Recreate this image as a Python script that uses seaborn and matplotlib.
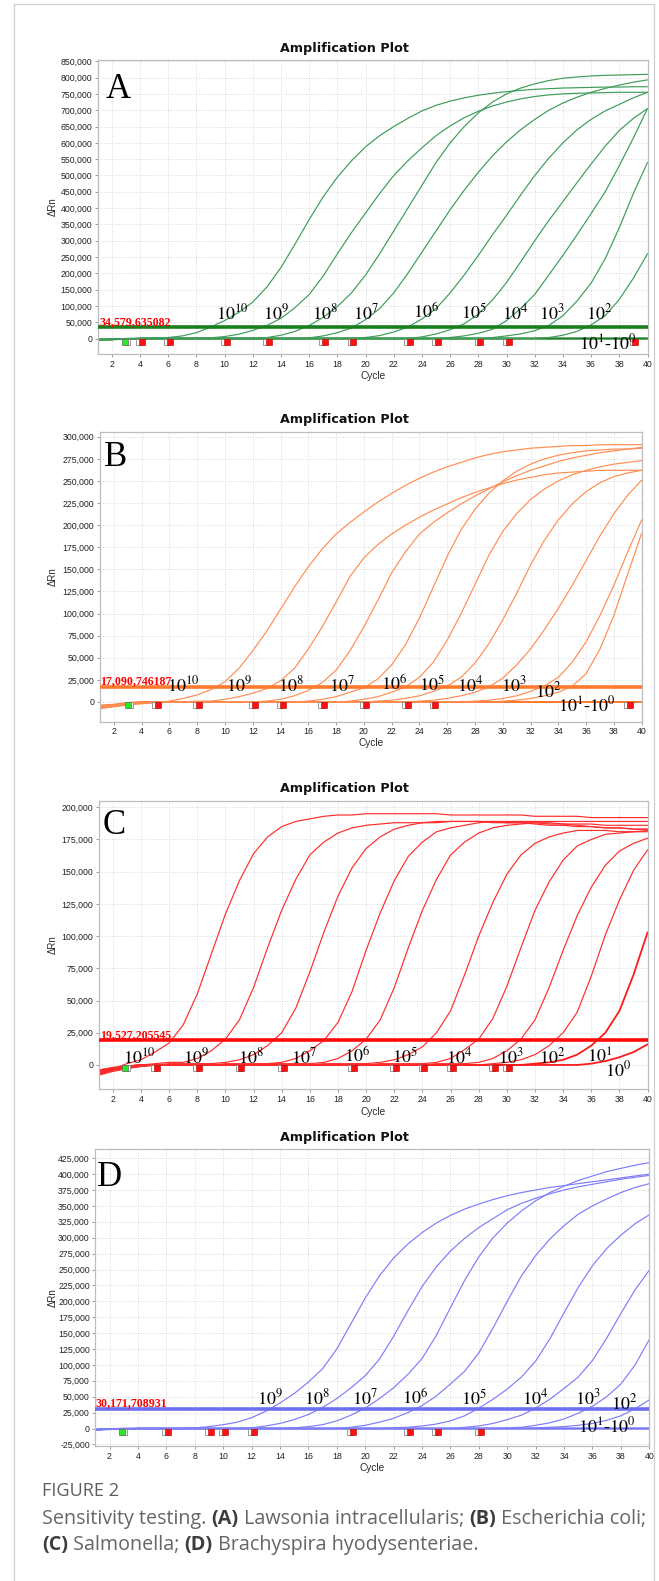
import numpy as np
import pandas as pd
import matplotlib
matplotlib.use("Agg")
import matplotlib.pyplot as plt
import seaborn as sns
from matplotlib.ticker import FuncFormatter, MultipleLocator
from matplotlib.lines import Line2D

# ---------------------------------------------------------------- data
CYCLES = list(range(1, 41))

# delta Rn values in thousands, one value per cycle 1..40
A_CURVES = {
    "1e10": [-3,-3,-1,0,1,3,8,18,35,55,80,112,158,218,290,365,435,495,545,588,622,650,675,698,715,728,738,746,752,757,761,764,766,768,769,770,771,771,772,772],
    "1e9":  [-3,-3,-1,0,0,0,0,1,2,6,13,25,40,62,95,135,192,260,325,385,445,500,545,585,622,652,677,697,713,725,735,742,747,750,752,753,754,755,755,755],
    "1e8":  [-3,-3,-1,0,0,0,0,0,0,0,0,0,3,10,22,40,65,98,140,195,260,330,400,470,540,600,650,692,725,750,768,781,791,798,802,805,807,808,809,810],
    "1e7":  [-3,-3,-1,0,0,0,0,0,0,0,0,0,0,0,0,2,8,18,32,58,92,140,200,265,330,395,455,510,560,603,640,672,700,722,740,755,767,777,786,793],
    "1e6":  [-3,-3,-1,0,0,0,0,0,0,0,0,0,0,0,0,0,0,0,0,3,9,20,35,60,92,140,195,255,318,378,440,500,553,600,640,672,698,718,738,755],
    "1e5":  [-3,-3,-1,0,0,0,0,0,0,0,0,0,0,0,0,0,0,0,0,0,0,0,0,5,14,27,45,75,118,172,235,300,362,420,478,535,590,638,675,705],
    "1e4":  [-3,-3,-1,0,0,0,0,0,0,0,0,0,0,0,0,0,0,0,0,0,0,0,0,0,0,3,8,16,28,55,92,135,195,255,318,383,450,530,615,705],
    "1e3":  [-3,-3,-1,0,0,0,0,0,0,0,0,0,0,0,0,0,0,0,0,0,0,0,0,0,0,0,0,0,3,8,14,24,40,70,115,170,245,340,445,540],
    "1e2":  [-3,-3,-1,0,0,0,0,0,0,0,0,0,0,0,0,0,0,0,0,0,0,0,0,0,0,0,0,0,0,0,0,0,3,10,22,42,70,120,185,260],
    "1e1":  [-4,-3,-1,0,0,0,0,0,0,0,0,0,0,0,0,0,0,0,0,0,0,0,0,0,0,0,0,0,0,0,0,0,0,0,0,0,0,0,0,0],
    "1e0":  [-3,-2,-1,-1,0,0,0,0,0,0,0,0,0,0,0,0,0,0,0,0,0,0,0,0,0,0,0,0,0,0,0,0,0,0,0,0,0,0,0,0],
}
B_CURVES = {
    "1e10": [-7,-5,-3,-2,-1,1,4,8,14,23,38,58,80,105,130,153,173,190,203,215,226,236,245,253,260,266,271,276,280,283,285,287,288,289,290,290,291,291,291,291],
    "1e9":  [-6,-4,-2,-1,0,0,0,1,1,3,6,10,15,24,38,60,85,113,142,163,178,190,200,209,217,224,231,237,242,247,251,254,257,259,260,261,262,262,262,262],
    "1e8":  [-5,-4,-2,-1,0,0,0,0,0,0,0,0,1,3,7,13,22,36,58,85,115,146,170,190,203,214,224,233,241,249,256,262,267,272,276,279,282,284,286,288],
    "1e7":  [-6,-4,-2,-1,0,0,0,0,0,0,0,0,0,0,0,1,3,6,11,16,26,42,65,95,130,165,195,218,236,250,261,269,275,279,282,284,285,286,286,287],
    "1e6":  [-5,-3,-2,-1,0,0,0,0,0,0,0,0,0,0,0,0,0,0,1,3,6,11,17,28,45,70,100,133,166,193,213,229,241,250,257,262,266,269,271,273],
    "1e5":  [-4,-3,-2,-1,0,0,0,0,0,0,0,0,0,0,0,0,0,0,0,0,1,2,4,7,12,18,28,44,66,93,123,155,183,206,224,238,248,255,259,262],
    "1e4":  [-6,-4,-2,-1,0,0,0,0,0,0,0,0,0,0,0,0,0,0,0,0,0,0,0,1,2,4,7,11,17,27,42,60,82,106,132,160,188,213,234,251],
    "1e3":  [-5,-4,-2,-1,0,0,0,0,0,0,0,0,0,0,0,0,0,0,0,0,0,0,0,0,0,0,0,1,2,4,7,12,18,28,45,68,98,132,170,206],
    "1e2":  [-6,-4,-2,-1,0,0,0,0,0,0,0,0,0,0,0,0,0,0,0,0,0,0,0,0,0,0,0,0,0,1,2,4,7,11,18,32,60,98,145,191],
    "1e1":  [-7,-5,-3,-1,0,0,0,0,0,0,0,0,0,0,0,0,0,0,0,0,0,0,0,0,0,0,0,0,0,0,0,0,0,0,0,0,0,0,0,0],
    "1e0":  [-4,-3,-1,0,0,0,0,0,0,0,0,0,0,0,0,0,0,0,0,0,0,0,0,0,0,0,0,0,0,0,0,0,0,0,0,0,0,0,0,0],
}
C_CURVES = {
    "1e10": [-6,-3,1,4,10,17,31,55,86,117,143,164,177,185,189,191,193,194,194,195,195,195,195,195,195,194,194,194,194,194,194,193,193,193,193,192,192,192,192,192],
    "1e9":  [-5,-3,-1,0,1,2,2,5,11,20,35,60,91,120,144,163,173,180,184,186,187,188,188,188,188,189,189,189,188,188,188,188,187,187,187,187,186,186,186,186],
    "1e8":  [-7,-4,-2,-1,0,1,1,1,1,2,4,8,15,25,44,72,103,131,153,168,177,183,186,188,189,189,189,189,189,188,188,187,186,186,185,185,184,184,183,183],
    "1e7":  [-4,-2,-1,0,0,0,0,0,0,1,1,1,1,2,5,11,19,33,57,89,118,143,162,173,181,184,186,188,189,189,189,189,189,189,189,189,189,189,189,189],
    "1e6":  [-5,-3,-1,0,0,0,0,0,0,0,0,0,1,1,1,1,2,5,11,20,35,60,91,120,144,163,173,180,184,186,187,188,188,187,186,185,184,184,183,183],
    "1e5":  [-8,-5,-3,-1,0,0,0,0,0,0,0,0,0,0,0,0,1,1,1,1,2,4,8,14,25,42,70,100,126,148,163,172,177,180,182,182,182,181,181,181],
    "1e4":  [-6,-4,-2,-1,0,0,0,0,0,0,0,0,0,0,0,0,0,0,0,0,1,1,1,1,2,5,12,20,36,61,91,120,142,159,170,175,179,180,181,182],
    "1e3":  [-5,-3,-1,0,0,0,0,0,0,0,0,0,0,0,0,0,0,0,0,0,0,0,0,0,1,1,1,2,5,11,20,35,60,89,116,138,155,166,172,176],
    "1e2":  [-4,-2,-1,0,0,0,0,0,0,0,0,0,0,0,0,0,0,0,0,0,0,0,0,0,0,0,0,0,1,2,4,8,15,25,41,69,101,128,151,167],
    "1e1":  [-7,-4,-2,-1,0,0,0,0,0,0,0,0,0,0,0,0,0,0,0,0,0,0,0,0,0,0,0,0,0,0,0,1,2,4,8,15,25,42,70,103],
    "1e0":  [-5,-3,-1,0,0,0,0,0,0,0,0,0,0,0,0,0,0,0,0,0,0,0,0,0,0,0,0,0,0,0,0,0,0,0,0,1,3,6,10,16],
}
D_CURVES = {
    "1e9":  [-2,-1,-1,0,0,0,0,1,3,6,10,17,27,40,55,73,94,125,165,205,240,268,290,308,323,335,345,353,360,366,371,375,379,382,385,388,391,394,397,400],
    "1e8":  [-2,-1,-1,0,0,0,0,0,0,0,0,1,4,8,14,22,33,47,64,83,109,145,185,223,254,279,299,316,330,344,354,362,369,375,380,384,388,392,395,398],
    "1e7":  [-2,-1,-1,0,0,0,0,0,0,0,0,0,0,0,1,3,6,12,21,32,47,64,85,110,146,190,233,270,300,323,342,358,371,381,390,397,404,409,414,418],
    "1e6":  [-2,-1,-1,0,0,0,0,0,0,0,0,0,0,0,0,0,0,0,2,5,10,16,25,36,51,70,90,119,158,200,240,272,298,319,337,350,361,371,379,385],
    "1e5":  [-2,-1,-1,0,0,0,0,0,0,0,0,0,0,0,0,0,0,0,0,0,0,1,2,4,7,12,20,32,46,62,81,106,141,182,222,256,283,304,322,336],
    "1e4":  [-2,-1,-1,0,0,0,0,0,0,0,0,0,0,0,0,0,0,0,0,0,0,0,0,0,0,0,2,4,8,14,21,32,46,63,81,107,142,181,218,249],
    "1e3":  [-2,-1,-1,0,0,0,0,0,0,0,0,0,0,0,0,0,0,0,0,0,0,0,0,0,0,0,0,0,0,1,2,5,9,15,24,35,50,70,100,140],
    "1e2":  [-2,-1,-1,0,0,0,0,0,0,0,0,0,0,0,0,0,0,0,0,0,0,0,0,0,0,0,0,0,0,0,0,1,2,3,5,8,13,20,31,45],
    "1e1":  [-2,-1,-1,0,0,0,0,0,0,0,0,0,0,0,0,0,0,0,0,0,0,0,0,0,0,0,0,0,0,0,0,0,0,0,0,0,0,0,0,0],
    "1e0":  [-1,-1,0,0,0,0,0,0,0,0,0,0,0,0,0,0,0,0,0,0,0,0,0,0,0,0,0,0,0,0,0,0,0,0,0,0,0,0,0,0],
}
FLAT_KEYS = ["1e1", "1e0"]

THRESHOLDS = [34579.635082, 17090.746187, 19527.205545, 30171.708931]
THRESHOLD_TEXTS = ["34,579,635082", "17,090,746187", "19,527,205545", "30,171,708931"]

# marker cycles (baseline start / end markers)
A_MARKS = [4, 6, 10, 13, 17, 19, 23, 25, 28, 30, 39]
B_MARKS = [5, 8, 12, 14, 17, 20, 23, 25, 39]
C_MARKS = [5, 8, 11, 14, 19, 22, 24, 26, 29, 30]
D_MARKS = [6, 9, 10, 12, 19, 23, 25, 28]
GREEN_MARK = [2.9, 3.0, 2.85, 2.9]

A_LABELS = [r"$10^{10}$", r"$10^{9}$", r"$10^{8}$", r"$10^{7}$", r"$10^{6}$", r"$10^{5}$", r"$10^{4}$", r"$10^{3}$", r"$10^{2}$", r"$10^{1}$-$10^{0}$"]
B_LABELS = A_LABELS
C_LABELS = [r"$10^{10}$", r"$10^{9}$", r"$10^{8}$", r"$10^{7}$", r"$10^{6}$", r"$10^{5}$", r"$10^{4}$", r"$10^{3}$", r"$10^{2}$", r"$10^{1}$", r"$10^{0}$"]
D_LABELS = [r"$10^{9}$", r"$10^{8}$", r"$10^{7}$", r"$10^{6}$", r"$10^{5}$", r"$10^{4}$", r"$10^{3}$", r"$10^{2}$", r"$10^{1}$-$10^{0}$"]

TITLE = "Amplification Plot"
LETTERS = ["A", "B", "C", "D"]
CAPTION_HEAD = "FIGURE 2"
CAPTION_L1 = [("Sensitivity testing. ", False), ("(A)", True), (" Lawsonia intracellularis; ", False),
              ("(B)", True), (" Escherichia coli;", False)]
CAPTION_L2 = [("(C)", True), (" Salmonella; ", False), ("(D)", True), (" Brachyspira hyodysenteriae.", False)]

# ---------------------------------------------------------------- layout
W, H = 659, 1581
PANELS = [
    dict(curves=A_CURVES, marks=A_MARKS, labels=A_LABELS,
         rect=(97.8, 60, 647.5, 354), ylim=(-47500, 854000), ystep=50000, ymin_tick=0, ymax_tick=850000,
         col="#3c9c58", thc="#17801d", flatc="#1f7f25", title_y=48.3, cycle_y=376,
         letter=(118, 90),
         lab_pos=[(10.52, 78), (13.64, 78), (17.12, 78), (20.03, 78), (24.28, 78), (27.69, 78),
                  (30.6, 78), (33.22, 78), (36.56, 78), (37.2, -14.7)],
         th_pos=(1.09, 51.5)),
    dict(curves=B_CURVES, marks=B_MARKS, labels=B_LABELS,
         rect=(100, 432.3, 641.7, 721.7), ylim=(-22300, 305000), ystep=25000, ymin_tick=0, ymax_tick=300000,
         col="#ff8d52", thc="#ff7a2c", flatc="#ff7a2c", title_y=420, cycle_y=743,
         letter=(116, 458),
         lab_pos=[(7.0, 19.2), (11.04, 19.2), (14.75, 19.2), (18.42, 19.2), (22.17, 19.2), (24.9, 19.2),
                  (27.64, 19.2), (30.8, 19.2), (33.25, 11.7), (36.06, -3.4)],
         th_pos=(1.0, 23.0)),
    dict(curves=C_CURVES, marks=C_MARKS, labels=C_LABELS,
         rect=(98.7, 800.7, 647.6, 1089.3), ylim=(-18900, 205100), ystep=25000, ymin_tick=0, ymax_tick=200000,
         col="#ff2b2b", thc="#ff0a0a", flatc="#ff1a1a", title_y=788.3, cycle_y=1111.7,
         letter=(114, 826),
         lab_pos=[(3.86, 6.2), (7.92, 6.2), (11.82, 6.2), (15.55, 6.2), (19.39, 6.2), (22.77, 6.2),
                  (26.6, 6.2), (30.25, 6.2), (33.24, 6.2), (36.58, 6.2), (37.93, -4.4)],
         th_pos=(1.09, 23.3)),
    dict(curves=D_CURVES, marks=D_MARKS, labels=D_LABELS,
         rect=(95.3, 1149.3, 649.3, 1446), ylim=(-27500, 439000), ystep=25000, ymin_tick=-25000, ymax_tick=425000,
         col="#7d7dfa", thc="#6e6ef2", flatc="#7272f4", title_y=1137, cycle_y=1467.7,
         letter=(110, 1177),
         lab_pos=[(13.3, 47.5), (16.61, 47.5), (19.99, 47.5), (23.51, 47.5), (27.66, 47.5), (31.96, 47.5),
                  (35.7, 47.5), (38.23, 40.0), (37.04, 2.8)],
         th_pos=(1.0, 39.6)),
]

sns.set_theme(style="white")
plt.rcParams["font.family"] = ["Liberation Sans", "DejaVu Sans"]
plt.rcParams["mathtext.fontset"] = "stix"

fig = plt.figure(figsize=(W / 100, H / 100), dpi=100)
fig.patch.set_facecolor("white")


def fx(px):
    return px / W


def fy(py):
    return 1 - py / H


# card frame
frame_c = "#cfcfcf"
fig.add_artist(Line2D([fx(14), fx(14)], [fy(4), 0], color=frame_c, lw=0.9, transform=fig.transFigure))
fig.add_artist(Line2D([fx(654), fx(654)], [fy(4), 0], color=frame_c, lw=0.9, transform=fig.transFigure))
fig.add_artist(Line2D([fx(14), fx(654)], [fy(4), fy(4)], color=frame_c, lw=0.9, transform=fig.transFigure))

for i, p in enumerate(PANELS):
    l, t, r, b = p["rect"]
    ax = fig.add_axes([fx(l), fy(b), (r - l) / W, (b - t) / H])
    ax.set_facecolor("white")

    rows = []
    for name, vals in p["curves"].items():
        for c, v in zip(CYCLES, vals):
            rows.append((name, c, v * 1000.0))
    df = pd.DataFrame(rows, columns=["curve", "cycle", "drn"])
    amp = df[~df["curve"].isin(FLAT_KEYS)]
    flat = df[df["curve"].isin(FLAT_KEYS)]

    sns.lineplot(data=flat, x="cycle", y="drn", units="curve", estimator=None,
                 color=p["flatc"], linewidth=1.3, ax=ax, legend=False, zorder=2)
    sns.lineplot(data=amp, x="cycle", y="drn", units="curve", estimator=None,
                 color=p["col"], linewidth=0.85, ax=ax, legend=False, zorder=2.5)

    ax.axhline(THRESHOLDS[i], color=p["thc"], lw=2.6, zorder=3)

    # markers
    mk = np.array(p["marks"], dtype=float)
    ymk = -0.012 * (p["ylim"][1] - p["ylim"][0])
    sns.scatterplot(x=mk - 0.06, y=np.full(len(mk), ymk), marker="s", s=15, color="white",
                    edgecolor="#8a8a8a", linewidth=0.6, ax=ax, legend=False, zorder=4)
    sns.scatterplot(x=mk + 0.14, y=np.full(len(mk), ymk), marker="s", s=13, color="#ff1010",
                    edgecolor="#b00000", linewidth=0.4, ax=ax, legend=False, zorder=4.5)
    g = GREEN_MARK[i]
    sns.scatterplot(x=[g + 0.15], y=[ymk], marker="s", s=15, color="white",
                    edgecolor="#8a8a8a", linewidth=0.6, ax=ax, legend=False, zorder=4)
    sns.scatterplot(x=[g], y=[ymk], marker="s", s=22, color="#22ee22",
                    edgecolor="#6a6a6a", linewidth=0.5, ax=ax, legend=False, zorder=4.6)

    ax.set_xlim(1, 40)
    ax.set_ylim(*p["ylim"])
    ax.xaxis.set_major_locator(MultipleLocator(2))
    ax.set_yticks(np.arange(p["ymin_tick"], p["ymax_tick"] + 1, p["ystep"]))
    ax.yaxis.set_major_formatter(FuncFormatter(lambda v, pos: f"{int(round(v)):,}"))
    ax.set_xlabel("")
    ax.set_ylabel("")
    ax.grid(True, color="#d4d4d4", linestyle=(0, (1.2, 1.8)), linewidth=0.6, zorder=0)
    ax.set_axisbelow(True)
    for s in ax.spines.values():
        s.set_color("#bdbdbd")
        s.set_linewidth(0.9)
    ax.tick_params(axis="both", which="major", length=2.0, width=0.6, color="#8c8c8c",
                   labelsize=6.3, labelcolor="#222222", pad=2.0, direction="out",
                   left=True, bottom=True)

    # threshold value label
    ax.text(p["th_pos"][0], p["th_pos"][1] * 1000, THRESHOLD_TEXTS[i], color="#ff0000",
            fontsize=8.6, fontweight="bold", family=["Liberation Serif", "DejaVu Serif"],
            ha="left", va="center", zorder=6)
    # dilution labels
    for txt, (cx, cy) in zip(p["labels"], p["lab_pos"]):
        ax.text(cx, cy * 1000, txt, fontsize=13, color="black",
                family=["Liberation Serif", "DejaVu Serif"], ha="center", va="center", zorder=6)

    # titles and axis labels
    fig.text(fx(344), fy(p["title_y"]), TITLE, fontsize=9.2, fontweight="bold",
             family=["DejaVu Sans"], ha="center", va="center", color="#111111")
    fig.text(fx((l + r) / 2), fy(p["cycle_y"]), "Cycle", fontsize=7.3, ha="center", va="center",
             color="#2a2a2a")
    fig.text(fx(53), fy((t + b) / 2), "\u0394Rn", fontsize=7.0, rotation=90, ha="center",
             va="center", color="#2a2a2a")
    fig.text(fx(p["letter"][0]), fy(p["letter"][1]), LETTERS[i], fontsize=25,
             family=["Liberation Serif", "DejaVu Serif"], ha="center", va="center", color="black")

# ---------------------------------------------------------------- caption
renderer = fig.canvas.get_renderer()
CAP_FONT = ["Open Sans", "Lato", "DejaVu Sans"]


def line_width(parts, size):
    total = 0.0
    for txt, bold in parts:
        tt = fig.text(0, 0, txt, fontsize=size, family=CAP_FONT,
                      fontweight="bold" if bold else "normal")
        total += tt.get_window_extent(renderer).width
        tt.remove()
    return total


def rich_line(x_px, y_px, parts, size):
    x = x_px
    for txt, bold in parts:
        tt = fig.text(fx(x), fy(y_px), txt, fontsize=size, family=CAP_FONT,
                      fontweight="bold" if bold else "normal",
                      color="#3c3c3c" if bold else "#666666", ha="left", va="center")
        x += tt.get_window_extent(renderer).width


base = 12.0
cap_size = base * 603.0 / line_width(CAPTION_L1, base)
head_w = line_width([(CAPTION_HEAD, False)], 10.0)
head_size = 10.0 * 77.0 / head_w

fig.text(fx(42), fy(1491), CAPTION_HEAD, fontsize=head_size, family=CAP_FONT,
         color="#5e5e5e", ha="left", va="center")
rich_line(42, 1519, CAPTION_L1, cap_size)
rich_line(42, 1545, CAPTION_L2, cap_size)

fig.savefig("out.png", dpi=100, facecolor="white")
